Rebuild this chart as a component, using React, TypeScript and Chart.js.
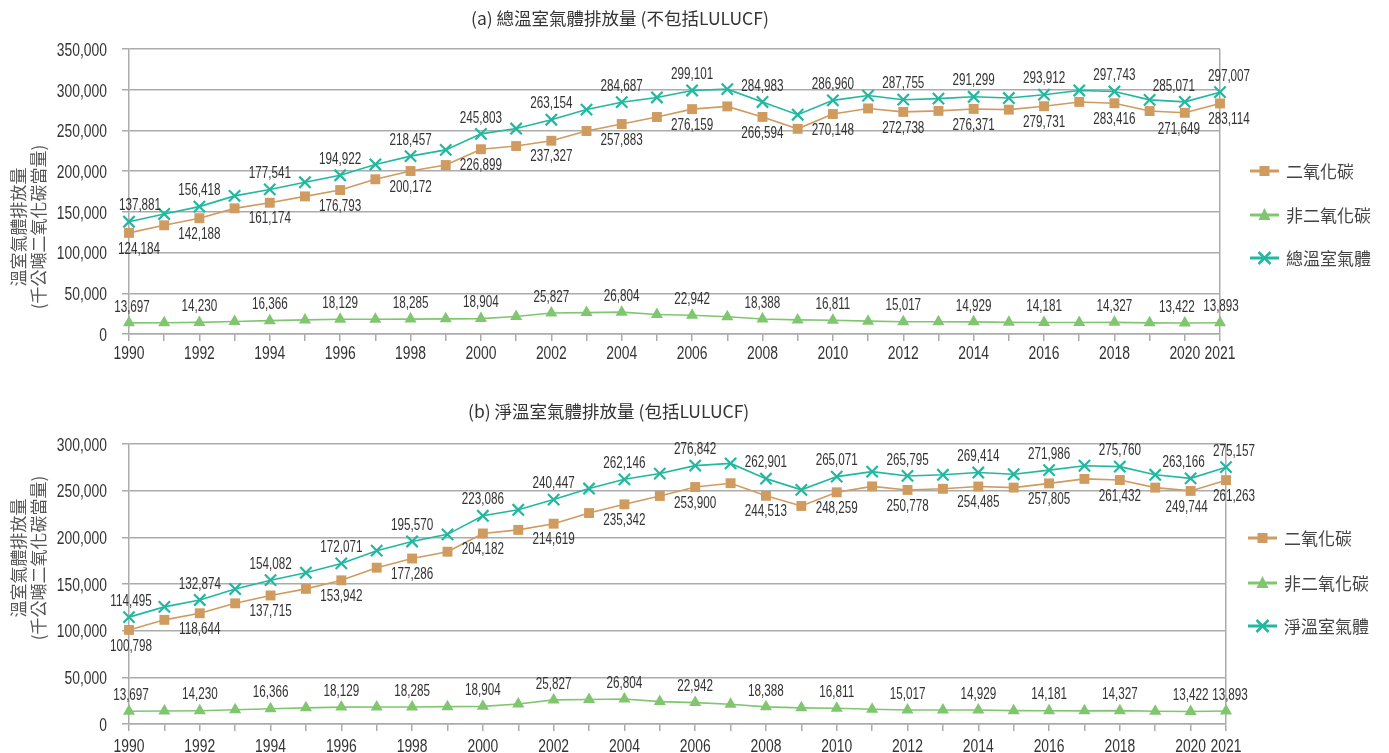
import React, { useEffect, useRef } from 'react';
import { Chart, registerables } from 'chart.js';

Chart.register(...registerables);

const YEARS = ['1990','1991','1992','1993','1994','1995','1996','1997','1998','1999','2000','2001','2002','2003','2004','2005','2006','2007','2008','2009','2010','2011','2012','2013','2014','2015','2016','2017','2018','2019','2020','2021'];

// (a) excluding LULUCF
const CO2_A = [124184,133500,142188,154300,161174,169000,176793,190000,200172,207500,226899,230800,237327,249300,257883,266500,276159,279500,266594,252000,270148,277000,272738,274000,276371,275500,279731,285000,283416,273800,271649,283114];
const NONCO2 = [13697,13900,14230,15300,16366,17300,18129,18200,18285,18600,18904,21500,25827,26300,26804,24000,22942,21200,18388,17300,16811,15800,15017,15000,14929,14300,14181,14100,14327,13700,13422,13893];
const TOTAL_A = [137881,147400,156418,169600,177541,186300,194922,208200,218457,226100,245803,252300,263154,275600,284687,290500,299101,300700,284983,269300,286960,292800,287755,289000,291299,289800,293912,299100,297743,287500,285071,297007];

// (b) including LULUCF
const CO2_B = [100798,111600,118644,129300,137715,144800,153942,167500,177286,184600,204182,208000,214619,226000,235342,244300,253900,258000,244513,233600,248259,254600,250778,252000,254485,253300,257805,262600,261432,253300,249744,261263];
const NET_B = [114495,125500,132874,144600,154082,162100,172071,185700,195570,203200,223086,229500,240447,252300,262146,268300,276842,279200,262901,250900,265071,270400,265795,267000,269414,267600,271986,276700,275760,267000,263166,275157];

const Y_TICKS_A = [0, 50000, 100000, 150000, 200000, 250000, 300000, 350000];
const Y_TICKS_B = [0, 50000, 100000, 150000, 200000, 250000, 300000];

const TITLE_A = '(a) 總溫室氣體排放量 (不包括LULUCF)';
const TITLE_B = '(b) 淨溫室氣體排放量 (包括LULUCF)';
const SERIES_A = ['二氧化碳', '非二氧化碳', '總溫室氣體'];
const SERIES_B = ['二氧化碳', '非二氧化碳', '淨溫室氣體'];
const Y_TITLE = ['溫室氣體排放量', '(千公噸二氧化碳當量)'];

const C_CO2 = '#CF9B5F';
const C_NON = '#80C66F';
const C_TOT = '#22B8A0';
const GRID = '#ABABAB';
const SANS = "'Liberation Sans', Arial, sans-serif";
const CJK = "'Noto Sans CJK TC', 'Noto Sans', sans-serif";
const SX = 0.73; // horizontal condensing of numeric text

function fmt(v: number) {
  return Number(v).toLocaleString('en-US');
}

function narrowText(ctx: CanvasRenderingContext2D, text: string, x: number, y: number, align: CanvasTextAlign) {
  ctx.save();
  ctx.translate(x, y);
  ctx.scale(SX, 1);
  ctx.textAlign = align;
  ctx.textBaseline = 'alphabetic';
  ctx.fillText(text, 0, 0);
  ctx.restore();
}

function drawMarker(ctx: CanvasRenderingContext2D, style: string, x: number, y: number, color: string) {
  ctx.save();
  ctx.fillStyle = color;
  ctx.strokeStyle = color;
  if (style === 'rect') {
    ctx.fillRect(x - 5, y - 5, 10, 10);
  } else if (style === 'triangle') {
    ctx.beginPath();
    ctx.moveTo(x, y - 7);
    ctx.lineTo(x + 6, y + 5);
    ctx.lineTo(x - 6, y + 5);
    ctx.closePath();
    ctx.fill();
  } else {
    ctx.lineWidth = 2.5;
    ctx.beginPath();
    ctx.moveTo(x - 6, y - 6);
    ctx.lineTo(x + 6, y + 6);
    ctx.moveTo(x + 6, y - 6);
    ctx.lineTo(x - 6, y + 6);
    ctx.stroke();
  }
  ctx.restore();
}

const overlayPlugin = {
  id: 'overlay',
  afterDraw(chart: any, _args: any, opts: any) {
    const ctx: CanvasRenderingContext2D = chart.ctx;
    const n = chart.data.labels.length;
    const xs = chart.scales.x;
    const ys = chart.scales.y;
    const area = chart.chartArea;
    ctx.save();
    // axis tick labels
    ctx.fillStyle = '#333333';
    ctx.font = `19px ${SANS}`;
    opts.yTicks.forEach((v: number) => {
      narrowText(ctx, fmt(v), area.left - 22, ys.getPixelForValue(v) + 6.8, 'right');
    });
    chart.data.labels.forEach((lab: string, i: number) => {
      if (!(i % 2 === 0 || i === n - 1)) return;
      narrowText(ctx, lab, xs.getPixelForValue(i), area.bottom + opts.xLabelDy, 'center');
    });
    // value labels
    ctx.font = `16px ${SANS}`;
    ctx.fillStyle = '#333333';
    chart.data.datasets.forEach((ds: any, di: number) => {
      const meta = chart.getDatasetMeta(di);
      const dy = opts.labelDy[di];
      meta.data.forEach((el: any, i: number) => {
        if (!(i % 2 === 0 || i === n - 1)) return;
        let dx = 0;
        if (i === 0) dx = opts.firstDx[di];
        else if (i === n - 2) dx = opts.prevLastDx[di];
        else if (i === n - 1) dx = opts.lastDx[di];
        narrowText(ctx, fmt(ds.data[i]), el.x + dx, el.y + dy + 5.7, 'center');
      });
    });
    // legend
    const styles = ['rect', 'triangle', 'crossRot'];
    chart.data.datasets.forEach((ds: any, di: number) => {
      const y = opts.legendY[di];
      const x0 = opts.legendX;
      ctx.strokeStyle = ds.borderColor;
      ctx.lineWidth = 3;
      ctx.beginPath();
      ctx.moveTo(x0, y);
      ctx.lineTo(x0 + 29, y);
      ctx.stroke();
      drawMarker(ctx, styles[di], x0 + 14.5, y, ds.borderColor);
      ctx.font = `17px ${CJK}`;
      ctx.fillStyle = '#444444';
      ctx.textAlign = 'left';
      ctx.textBaseline = 'middle';
      ctx.fillText(ds.label, x0 + 36, y + 1);
    });
    // y axis title
    ctx.font = `17px ${CJK}`;
    ctx.fillStyle = '#555555';
    ctx.textAlign = 'center';
    ctx.textBaseline = 'middle';
    Y_TITLE.forEach((t, k) => {
      ctx.save();
      ctx.translate(opts.yTitleX[k], opts.yTitleY);
      ctx.rotate(-Math.PI / 2);
      ctx.fillText(t, 0, 0);
      ctx.restore();
    });
    ctx.restore();
  },
};

function makeConfig(names: string[], co2: number[], non: number[], tot: number[], yMax: number, yTicks: number[], o: any) {
  const last = YEARS.length - 1;
  return {
    type: 'line',
    data: {
      labels: YEARS,
      datasets: [
        { label: names[0], data: co2, borderColor: C_CO2, backgroundColor: C_CO2, borderWidth: 1.6, pointStyle: 'rect', pointRadius: 7, pointBorderWidth: 0, pointBackgroundColor: C_CO2, tension: 0 },
        { label: names[1], data: non, borderColor: C_NON, backgroundColor: C_NON, borderWidth: 1.6, pointStyle: 'triangle', pointRadius: 7, pointBorderWidth: 0, pointBackgroundColor: C_NON, tension: 0 },
        { label: names[2], data: tot, borderColor: C_TOT, backgroundColor: C_TOT, borderWidth: 1.6, pointStyle: 'crossRot', pointRadius: 8, pointBorderWidth: 2.2, pointBorderColor: C_TOT, tension: 0 },
      ],
    },
    options: {
      responsive: false,
      animation: false,
      devicePixelRatio: 1,
      layout: { padding: { top: o.padTop, right: o.padRight, left: 0, bottom: 0 } },
      plugins: {
        legend: { display: false },
        tooltip: { enabled: false },
        title: { display: false },
        overlay: {
          yTicks,
          xLabelDy: o.xLabelDy,
          labelDy: [15, -17, -17],
          firstDx: o.firstDx,
          prevLastDx: o.prevLastDx,
          lastDx: o.lastDx,
          legendX: o.legendX,
          legendY: o.legendY,
          yTitleX: [18.5, 38.5],
          yTitleY: o.yTitleY,
        },
      },
      scales: {
        x: {
          type: 'category',
          offset: false,
          grid: {
            display: true,
            drawOnChartArea: true,
            drawTicks: true,
            color: (c: any) => (c.index === last ? GRID : 'rgba(0,0,0,0)'),
            tickColor: GRID,
            tickLength: 7,
            lineWidth: 1.5,
          },
          border: { display: true, color: GRID, width: 1.5 },
          ticks: { display: false, autoSkip: false, maxRotation: 0, minRotation: 0 },
          afterFit: (s: any) => { s.height = o.xHeight; },
        },
        y: {
          min: 0,
          max: yMax,
          ticks: { display: false, stepSize: 50000 },
          grid: { color: GRID, lineWidth: 1.5, tickLength: 7, tickColor: GRID, drawTicks: true },
          border: { display: true, color: GRID, width: 1.5 },
          afterFit: (s: any) => { s.width = 129; },
        },
      },
    },
    plugins: [overlayPlugin],
  };
}

function LineChart({ config, top, height }: { config: any; top: number; height: number }) {
  const ref = useRef<HTMLCanvasElement>(null);
  useEffect(() => {
    const chart = new Chart(ref.current as HTMLCanvasElement, config);
    return () => chart.destroy();
  }, []);
  return (
    <canvas
      ref={ref}
      width={1389}
      height={height}
      style={{ position: 'absolute', left: 0, top, width: 1389, height }}
    />
  );
}

const titleStyle = (left: number, top: number): React.CSSProperties => ({
  position: 'absolute',
  left,
  top,
  fontFamily: CJK,
  fontSize: 17.5,
  lineHeight: '20px',
  color: '#333333',
  whiteSpace: 'nowrap',
  zIndex: 2,
});

export default function App() {
  const cfgA = makeConfig(SERIES_A, CO2_A, NONCO2, TOTAL_A, 350000, Y_TICKS_A, {
    padTop: 49, padRight: 1389 - 1220, xHeight: 380 - 334, xLabelDy: 25,
    firstDx: [10, 3, 11], prevLastDx: [-6, -8, -11], lastDx: [9, 1, 9],
    legendX: 1250, legendY: [171, 215, 258], yTitleY: 227,
  });
  const cfgB = makeConfig(SERIES_B, CO2_B, NONCO2, NET_B, 300000, Y_TICKS_B, {
    padTop: 64, padRight: 1389 - 1226, xHeight: 373 - 344, xLabelDy: 27.5,
    firstDx: [2, 2, 2], prevLastDx: [-4, 0, -7], lastDx: [8, 4, 8],
    legendX: 1248, legendY: [158, 203, 246], yTitleY: 178,
  });
  return (
    <div style={{ position: 'fixed', left: 0, top: 0, width: 1389, height: 753, background: '#ffffff', overflow: 'hidden' }}>
      <LineChart config={cfgA} top={0} height={380} />
      <LineChart config={cfgB} top={380} height={373} />
      <div style={titleStyle(471, 8)}>{TITLE_A}</div>
      <div style={titleStyle(468, 401)}>{TITLE_B}</div>
    </div>
  );
}
